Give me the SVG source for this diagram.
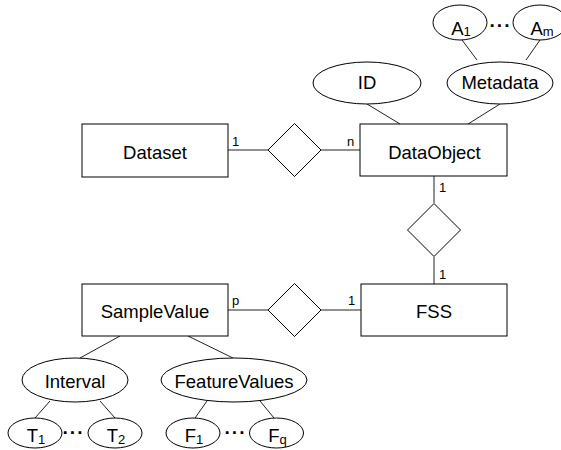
<svg xmlns="http://www.w3.org/2000/svg" width="561" height="450" viewBox="0 0 561 450">
<style>
.box{fill:#fff;stroke:#000;stroke-width:1}
.ell{fill:#fff;stroke:#000;stroke-width:1}
.rel{fill:#fff;stroke:#000;stroke-width:1}
.con line{stroke:#222;stroke-width:1}
text{font-family:"Liberation Sans",Arial,sans-serif;fill:#000}
.t{font-size:18.5px;text-anchor:middle}
.lb{font-size:13px}
.sub{font-size:13px}
.dots{font-size:19px;font-weight:bold;text-anchor:middle;letter-spacing:1px}
</style>
<rect width="561" height="450" fill="#fff"/>
<g id="connectors" class="con">
<line x1="228" y1="150" x2="268" y2="150"/>
<line x1="321" y1="150" x2="360" y2="150"/>
<line x1="434" y1="176" x2="434" y2="203"/>
<line x1="434" y1="257" x2="434" y2="284"/>
<line x1="228" y1="310" x2="268" y2="310"/>
<line x1="321" y1="310" x2="361" y2="310"/>
<line x1="367" y1="104" x2="400" y2="124"/>
<line x1="500" y1="104" x2="468" y2="124"/>
<line x1="462" y1="40" x2="477" y2="60"/>
<line x1="540" y1="40" x2="526" y2="60"/>
<line x1="120" y1="336" x2="80" y2="358"/>
<line x1="188" y1="336" x2="233" y2="358"/>
<line x1="50" y1="401" x2="35" y2="418"/>
<line x1="100" y1="401" x2="115" y2="418"/>
<line x1="207" y1="401" x2="195" y2="418"/>
<line x1="260" y1="401" x2="274" y2="418"/>
</g>
<g id="Dataset"><rect class="box" x="82" y="124" width="146" height="53"/><text class="t" x="155" y="159">Dataset</text></g>
<g id="rel1"><polygon class="rel" points="294.5,123.5 321,150 294.5,176.5 268,150"/></g>
<g id="DataObject"><rect class="box" x="360" y="124" width="147" height="52"/><text class="t" x="434.5" y="159">DataObject</text></g>
<g id="ID"><ellipse class="ell" cx="367" cy="83" rx="54" ry="21"/><text class="t" x="367" y="89">ID</text></g>
<g id="Metadata"><ellipse class="ell" cx="500" cy="83" rx="53" ry="21"/><text class="t" x="500" y="89">Metadata</text></g>
<g id="A1"><ellipse class="ell" cx="460" cy="22.5" rx="27" ry="17.5"/><text class="t" x="461" y="35">A<tspan class="sub" dy="1">1</tspan></text></g>
<g id="Am"><ellipse class="ell" cx="540" cy="22.5" rx="27" ry="17.5"/><text class="t" x="542" y="35">A<tspan class="sub" dy="1">m</tspan></text></g>
<text class="dots" x="500.5" y="32">···</text>
<g id="rel2"><polygon class="rel" points="434,203.5 460.5,230 434,256.5 407.5,230"/></g>
<g id="FSS"><rect class="box" x="361" y="284" width="146" height="52"/><text class="t" x="434" y="318">FSS</text></g>
<g id="rel3"><polygon class="rel" points="294.5,283.5 321,310 294.5,336.5 268,310"/></g>
<g id="SampleValue"><rect class="box" x="82" y="284" width="146" height="52"/><text class="t" x="155" y="318">SampleValue</text></g>
<g id="Interval"><ellipse class="ell" cx="75" cy="380" rx="53" ry="22"/><text class="t" x="75" y="388">Interval</text></g>
<g id="FeatureValues"><ellipse class="ell" cx="234" cy="380" rx="73" ry="22"/><text class="t" x="234" y="388">FeatureValues</text></g>
<g id="T1"><ellipse class="ell" cx="35" cy="433" rx="27" ry="15"/><text class="t" x="36" y="442">T<tspan class="sub" dy="2">1</tspan></text></g>
<g id="T2"><ellipse class="ell" cx="115" cy="433" rx="27" ry="15"/><text class="t" x="116" y="442">T<tspan class="sub" dy="2">2</tspan></text></g>
<text class="dots" x="73.5" y="439">···</text>
<g id="F1"><ellipse class="ell" cx="193" cy="433" rx="27" ry="15"/><text class="t" x="194" y="442">F<tspan class="sub" dy="2">1</tspan></text></g>
<g id="Fq"><ellipse class="ell" cx="276.5" cy="433" rx="27" ry="15"/><text class="t" x="277.5" y="442">F<tspan class="sub" dy="2">q</tspan></text></g>
<text class="dots" x="235.5" y="439">···</text>
<g id="labels">
<text class="lb" x="232" y="146">1</text>
<text class="lb" x="347" y="146">n</text>
<text class="lb" x="439" y="192">1</text>
<text class="lb" x="439" y="279">1</text>
<text class="lb" x="232" y="305">p</text>
<text class="lb" x="348" y="305">1</text>
</g>
</svg>
